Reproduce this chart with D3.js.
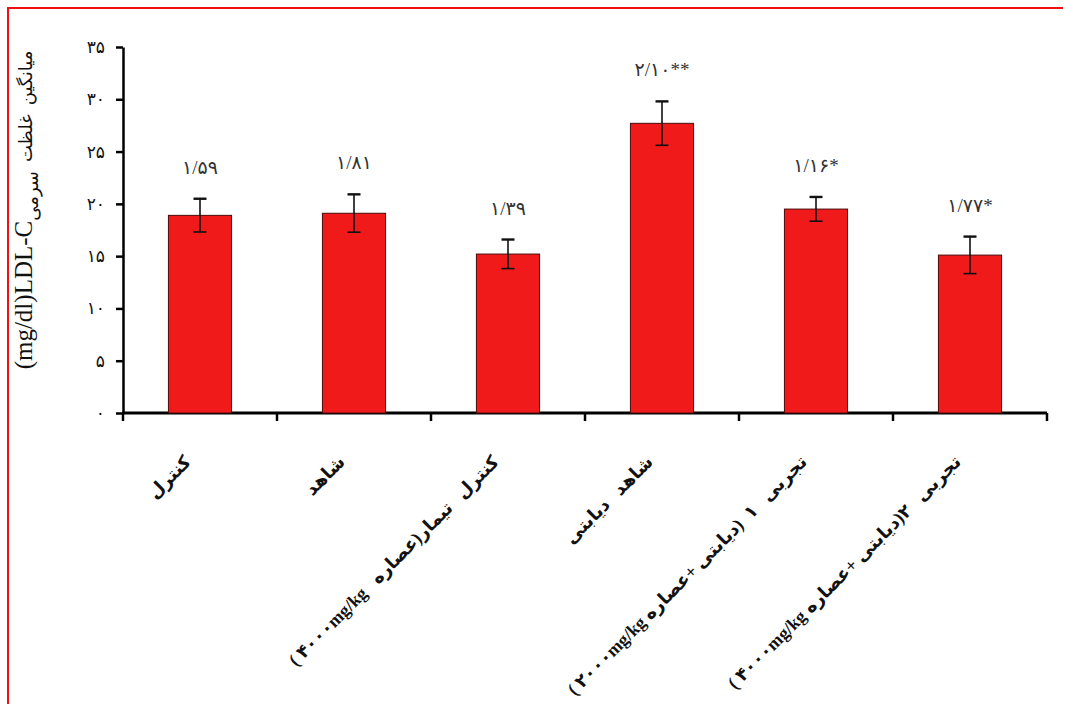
<!DOCTYPE html>
<html>
<head>
<meta charset="utf-8">
<script src="https://cdn.jsdelivr.net/npm/d3@7"></script>
<style>
    body { margin: 0; background: #fff; }
    svg { display: block; }
</style>
</head>
<body>
<svg id="chart"></svg>
<script>
// Data
var groups = ['g1', 'g2', 'g3', 'g4', 'g5', 'g6'];
var means = [18.9, 19.1, 15.2, 27.7, 19.5, 15.1];
var errors = [1.59, 1.81, 1.39, 2.10, 1.16, 1.77];
var errLabels = ['۱/۵۹', '۱/۸۱', '۱/۳۹', '۲/۱۰**', '۱/۱۶*', '۱/۷۷*'];
var yTicks = [0, 5, 10, 15, 20, 25, 30, 35];
var yTickLabels = ['۰', '۵', '۱۰', '۱۵', '۲۰', '۲۵', '۳۰', '۳۵'];

// Category labels as visual pieces, left to right (split by LRM so word order stays put)
var groupLabels = [
    ['کنترل'],
    ['شاهد'],
    ['( ۴۰۰۰mg/kg   ', 'عصاره', ')', 'تیمار', '   ', 'کنترل'],
    ['دیابتی', '   ', 'شاهد'],
    ['( ۲۰۰۰mg/kg ', 'عصاره', '+ ', 'دیابتی', ')  ۱   ', 'تجربی'],
    ['( ۴۰۰۰mg/kg ', 'عصاره', '+ ', 'دیابتی', ')۲   ', 'تجربی']
];

(function() {
    var width = 1065,
        height = 704,
        plotLeft = 123,
        plotRight = 1047,
        plotTop = 47,
        plotBottom = 413;

    var LRM = '\u200E';
    var fontFamily = "'Liberation Serif', 'DejaVu Sans', serif";

    var svg = d3.select('#chart')
        .attr('width', width)
        .attr('height', height);

    // red frame (left and top edges show in the picture)
    svg.append('path')
        .attr('d', 'M8,' + height + 'V8H1063')
        .attr('fill', 'none')
        .attr('stroke', '#f01010')
        .attr('stroke-width', 2);

    var x = d3.scaleBand()
        .domain(groups)
        .range([plotLeft, plotRight])
        .padding(0);

    var y = d3.scaleLinear()
        .domain([0, 35])
        .range([plotBottom, plotTop]);

    // y axis
    var yAxis = svg.append('g')
        .attr('transform', 'translate(' + plotLeft + ',0)')
        .call(d3.axisLeft(y)
            .tickValues(yTicks)
            .tickFormat(function(d, i) { return yTickLabels[i]; })
            .tickSize(7)
            .tickSizeOuter(0)
            .tickPadding(11));
    yAxis.select('.domain').attr('stroke-width', 2.5);
    yAxis.selectAll('.tick line').attr('stroke-width', 2.5);
    yAxis.selectAll('.tick text')
        .attr('font-family', fontFamily)
        .attr('font-size', 17)
        .attr('fill', '#111');

    // x axis line and ticks at band edges
    svg.append('line')
        .attr('x1', plotLeft - 1)
        .attr('x2', plotRight)
        .attr('y1', plotBottom)
        .attr('y2', plotBottom)
        .attr('stroke', '#000')
        .attr('stroke-width', 2.8);

    var edges = groups.map(function(g) { return x(g); }).concat([plotRight]);
    svg.append('g').selectAll('line')
        .data(edges)
        .enter().append('line')
        .attr('x1', function(d) { return d; })
        .attr('x2', function(d) { return d; })
        .attr('y1', plotBottom)
        .attr('y2', plotBottom + 8)
        .attr('stroke', '#000')
        .attr('stroke-width', 2.5);

    // bars
    var barW = x.bandwidth() * 0.41;
    svg.append('g').selectAll('rect')
        .data(groups)
        .enter().append('rect')
        .attr('x', function(d) { return x(d) + (x.bandwidth() - barW) / 2; })
        .attr('y', function(d, i) { return y(means[i]); })
        .attr('width', barW)
        .attr('height', function(d, i) { return plotBottom - y(means[i]); })
        .attr('fill', '#f01a1a')
        .attr('stroke', '#4a0a0a')
        .attr('stroke-width', 1);

    // error bars
    var cap = 6.5;
    var eb = svg.append('g')
        .attr('stroke', '#111')
        .attr('stroke-width', 1.6);
    groups.forEach(function(g, i) {
        var cx = x(g) + x.bandwidth() / 2,
            hi = y(means[i] + errors[i]),
            lo = y(means[i] - errors[i]);
        eb.append('line').attr('x1', cx).attr('x2', cx).attr('y1', hi).attr('y2', lo);
        eb.append('line').attr('x1', cx - cap).attr('x2', cx + cap).attr('y1', hi).attr('y2', hi)
            .attr('stroke-width', 2.4);
        eb.append('line').attr('x1', cx - cap).attr('x2', cx + cap).attr('y1', lo).attr('y2', lo);
    });

    // value labels above error bars
    svg.append('g').selectAll('text')
        .data(groups)
        .enter().append('text')
        .attr('x', function(d) { return x(d) + x.bandwidth() / 2; })
        .attr('y', function(d, i) { return y(means[i] + errors[i]) - 25; })
        .attr('text-anchor', 'middle')
        .attr('direction', 'ltr')
        .attr('font-family', fontFamily)
        .attr('font-size', 19)
        .attr('fill', '#333')
        .text(function(d, i) { return errLabels[i]; });

    // category labels, rotated
    svg.append('g').selectAll('text')
        .data(groups)
        .enter().append('text')
        .attr('transform', function(d) {
            return 'translate(' + (x(d) + x.bandwidth() / 2 - 8) + ',' + (plotBottom + 50) + ') rotate(-45)';
        })
        .attr('text-anchor', 'end')
        .attr('direction', 'ltr')
        .attr('font-family', fontFamily)
        .attr('font-size', 18)
        .attr('font-weight', 'bold')
        .attr('fill', '#111')
        .style('white-space', 'pre')
        .text(function(d, i) { return LRM + groupLabels[i].join(LRM) + LRM; });

    // y axis title
    var title = svg.append('text')
        .attr('transform', 'translate(32,' + ((plotTop + plotBottom) / 2 - 20) + ') rotate(-90)')
        .attr('text-anchor', 'middle')
        .attr('direction', 'ltr')
        .attr('font-family', fontFamily)
        .attr('font-size', 25)
        .attr('fill', '#111')
        .style('white-space', 'pre');
    title.append('tspan').text('(mg/dl)LDL-C');
    title.append('tspan').attr('dy', 6).attr('font-size', 18).text('سرمی' + LRM);
    title.append('tspan').attr('dy', -6).attr('font-size', 18).text('  غلظت' + LRM + '  میانگین');
})();
</script>
</body>
</html>
